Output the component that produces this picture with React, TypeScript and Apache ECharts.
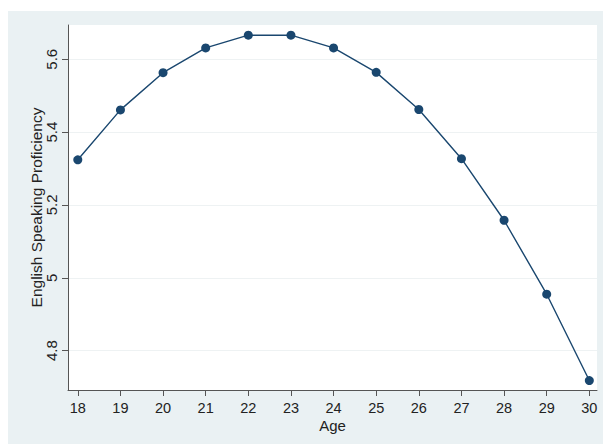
import React, { useEffect, useRef } from "react";
import * as echarts from "echarts";

const ages = [18, 19, 20, 21, 22, 23, 24, 25, 26, 27, 28, 29, 30];
const proficiency = [5.324, 5.461, 5.563, 5.631, 5.666, 5.666, 5.631, 5.564, 5.462, 5.327, 5.158, 4.955, 4.718];
const xTicks = [18, 19, 20, 21, 22, 23, 24, 25, 26, 27, 28, 29, 30];
const yTicks = [4.8, 5, 5.2, 5.4, 5.6];

export default function App() {
  const ref = useRef<HTMLDivElement>(null);
  useEffect(() => {
    document.body.style.margin = "0";
    const chart = echarts.init(ref.current!, null, { renderer: "svg" });
    const font = "Arial, 'Liberation Sans', sans-serif";
    chart.setOption({
      animation: false,
      backgroundColor: "#ffffff",
      graphic: [
        {
          type: "rect",
          z: -10,
          silent: true,
          shape: { x: 8, y: 11, width: 595, height: 433 },
          style: { fill: "#eaf1f3" },
        },
      ],
      grid: {
        left: 68,
        top: 25,
        right: 6,
        bottom: 54,
        show: true,
        backgroundColor: "#ffffff",
        borderWidth: 0,
      },
      xAxis: {
        type: "value",
        min: 17.77,
        max: 30.18,
        name: "Age",
        nameLocation: "middle",
        nameGap: 28,
        nameMoveOverlap: false,
        nameTextStyle: { fontFamily: font, fontSize: 15, lineHeight: 14, color: "#222" },
        axisLine: { show: true, onZero: false, lineStyle: { color: "#555", width: 1 } },
        axisTick: { show: true, length: 6, customValues: xTicks, lineStyle: { color: "#555" } },
        axisLabel: { customValues: xTicks, margin: 11, fontFamily: font, fontSize: 14.5, lineHeight: 14, color: "#222" },
        splitLine: { show: false },
      },
      yAxis: {
        type: "value",
        min: 4.692,
        max: 5.694,
        name: "English Speaking Proficiency",
        nameLocation: "middle",
        nameGap: 24,
        nameRotate: 90,
        nameMoveOverlap: false,
        nameTextStyle: { fontFamily: font, fontSize: 15.5, color: "#222" },
        axisLine: { show: true, onZero: false, lineStyle: { color: "#555", width: 1 } },
        axisTick: { show: true, length: 6, customValues: yTicks, lineStyle: { color: "#555" } },
        axisLabel: {
          customValues: yTicks,
          rotate: 90,
          margin: 9,
          fontFamily: font,
          fontSize: 15,
          color: "#222",
          formatter: (v: number) => String(Math.round(v * 10) / 10),
        },
        splitLine: { show: true, lineStyle: { color: "#eef2f3", width: 1 } },
      },
      series: [
        {
          type: "line",
          data: ages.map((a, i) => [a, proficiency[i]]),
          symbol: "circle",
          symbolSize: 9,
          itemStyle: { color: "#1a476f" },
          lineStyle: { color: "#1a476f", width: 1.4 },
        },
      ],
    });
    return () => chart.dispose();
  }, []);
  return <div ref={ref} style={{ width: 603, height: 444 }} />;
}
